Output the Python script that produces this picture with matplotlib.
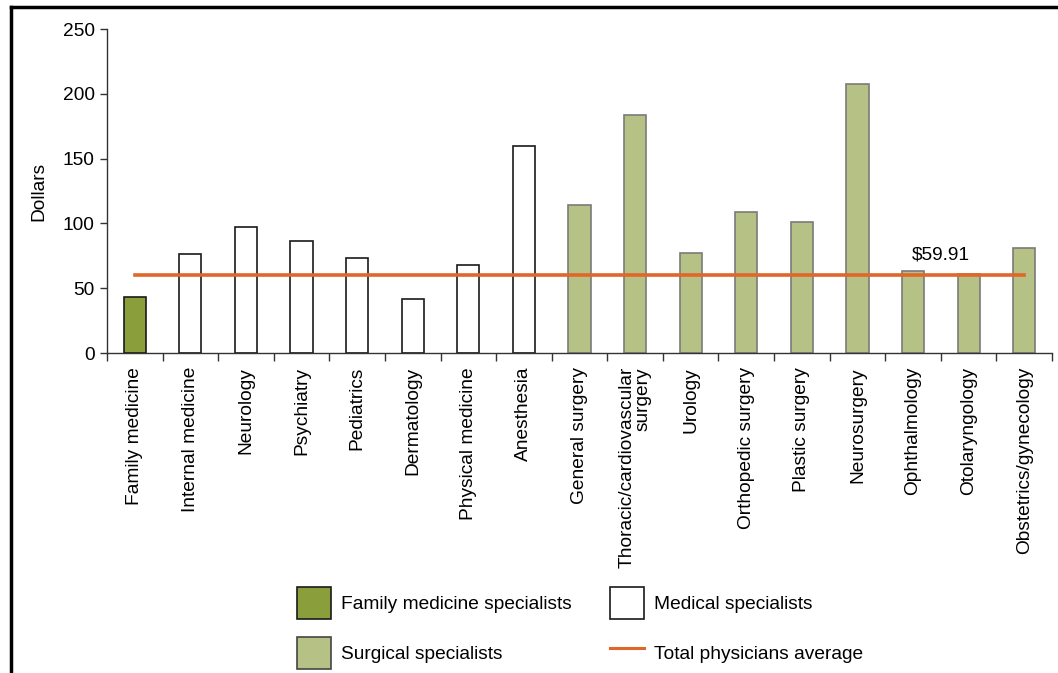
import matplotlib
matplotlib.use("Agg")
import matplotlib.pyplot as plt
from matplotlib.patches import Patch
from matplotlib.lines import Line2D

plt.rcParams['font.family'] = ['Liberation Sans', 'DejaVu Sans']

# Average payment per service, by specialty (dollars)
categories = [
    "Family medicine", "Internal medicine", "Neurology", "Psychiatry",
    "Pediatrics", "Dermatology", "Physical medicine", "Anesthesia",
    "General surgery", "Thoracic/cardiovascular\nsurgery", "Urology",
    "Orthopedic surgery", "Plastic surgery", "Neurosurgery",
    "Ophthalmology", "Otolaryngology", "Obstetrics/gynecology",
]
values = [43.5, 76.1, 97.0, 86.2, 73.1, 41.9, 67.7, 160.0,
          114.4, 183.9, 76.9, 109.0, 101.1, 207.8, 63.0, 61.0, 81.0]
groups = ["family"] + ["medical"] * 7 + ["surgical"] * 9
average = 59.91
yticks = [0, 50, 100, 150, 200, 250]

styles = {
    "family": dict(facecolor="#8A9E3C", edgecolor="#1a1a1a"),
    "medical": dict(facecolor="white", edgecolor="#1a1a1a"),
    "surgical": dict(facecolor="#B6C285", edgecolor="#7a7a7a"),
}
line_color = "#E0662A"
fs = 13.8

fig = plt.figure(figsize=(10.58, 6.73), dpi=100)
W, H = 1058, 673
ax = fig.add_axes([107 / W, 1 - 353 / H, (1052 - 107) / W, (353 - 29) / H])

x = list(range(len(categories)))
for xi, v, g in zip(x, values, groups):
    ax.bar(xi, v, width=0.4, linewidth=1.2, **styles[g], zorder=2)

ax.plot([x[0], x[-1]], [average, average], color=line_color, lw=2.6, zorder=3)
ax.text(14.5, average + 9, f"${average:.2f}", ha="center", va="bottom", fontsize=fs)

ax.set_xlim(-0.5, len(categories) - 0.5)
ax.set_ylim(0, 250)
ax.set_yticks(yticks)
ax.set_yticklabels([str(t) for t in yticks], fontsize=fs)
ax.set_xticks(x)
ax.set_xticklabels(categories, rotation=90, fontsize=fs, va="top", ha="center",
                   linespacing=0.85, multialignment="right")
ax.tick_params(axis="x", length=0, pad=10)
ax.set_xticks([i + 0.5 for i in range(-1, len(categories))], minor=True)
ax.tick_params(axis="x", which="minor", length=6, direction="out", width=1, color="#333333")
ax.tick_params(axis="y", length=5, direction="out", width=1, color="#333333", pad=4)
for s in ("top", "right"):
    ax.spines[s].set_visible(False)
for s in ("left", "bottom"):
    ax.spines[s].set_linewidth(1.0)
    ax.spines[s].set_color("#333333")
ax.set_ylabel("Dollars", fontsize=fs, labelpad=11)

# Outer frame (left and top edges)
fig.add_artist(Line2D([11 / W, 11 / W], [0, 1 - 7 / H], transform=fig.transFigure,
                      color="black", lw=2.5))
fig.add_artist(Line2D([11 / W, 1], [1 - 7 / H, 1 - 7 / H], transform=fig.transFigure,
                      color="black", lw=2.5))

handles = [
    Patch(facecolor=styles["family"]["facecolor"], edgecolor="#1a1a1a", lw=1.2),
    Patch(facecolor=styles["surgical"]["facecolor"], edgecolor="#444444", lw=1.2),
    Patch(facecolor="white", edgecolor="#1a1a1a", lw=1.2),
    Line2D([0], [0], color=line_color, lw=2.2),
]
labels = ["Family medicine specialists", "Surgical specialists",
          "Medical specialists", "Total physicians average"]
fig.legend(handles, labels, ncol=2, loc="center left",
           bbox_to_anchor=(297 / W, 1 - 628 / H), frameon=False, fontsize=fs,
           handlelength=1.75, handleheight=2.2, handletextpad=0.55,
           labelspacing=0.95, columnspacing=2.0, borderpad=0, borderaxespad=0)

fig.savefig("out.png", dpi=100, facecolor="white")
